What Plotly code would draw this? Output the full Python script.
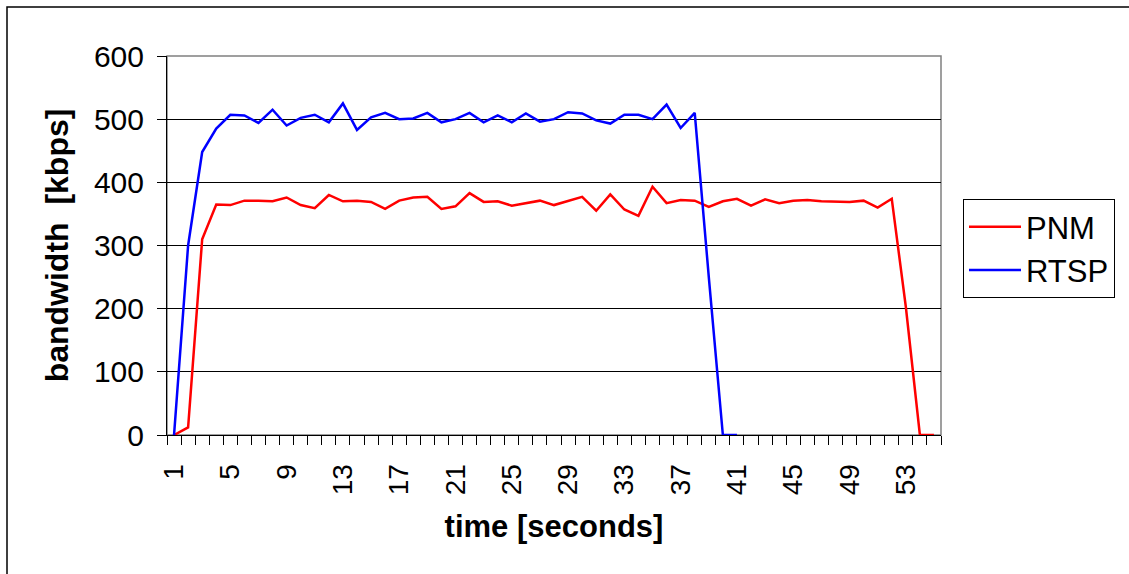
import plotly.graph_objects as go

time_pnm = list(range(1, 56))
pnm = [0, 12, 310, 365, 364, 371, 371, 370, 376, 364,
       359, 380, 370, 371, 369, 358, 371, 376, 377, 358,
       362, 383, 369, 370, 363, 367, 371, 364, 371, 377,
       355, 381, 357, 347, 393, 367, 372, 371, 361, 370,
       374, 363, 373, 367, 371, 372, 370, 369, 369, 371,
       360, 374, 203, 0, 0]

time_rtsp = list(range(1, 42))
rtsp = [0, 300, 448, 485, 507, 506, 494, 515, 490, 502,
        507, 495, 525, 483, 503, 510, 500, 501, 510, 495,
        500, 510, 495, 506, 495, 509, 496, 500, 511, 509,
        498, 493, 507, 507, 500, 523, 486, 510, 250, 0, 0]

x_tickvals = list(range(1, 56, 4))
x_ticktext = [str(v) for v in x_tickvals]
y_tickvals = [0, 100, 200, 300, 400, 500, 600]

FONT = "Liberation Sans, Arial, sans-serif"

fig = go.Figure()
fig.add_trace(go.Scatter(x=time_pnm, y=pnm, mode="lines", name="PNM",
                         line=dict(color="#FF0000", width=2.5)))
fig.add_trace(go.Scatter(x=time_rtsp, y=rtsp, mode="lines", name="RTSP",
                         line=dict(color="#0000FF", width=2.5)))

W, H = 1129, 574
ml, mr, mt, mb = 167, 188, 56, 139
pw, ph = W - ml - mr, H - mt - mb

def px(xp):
    return (xp - ml) / pw

def py(yp):
    return (H - mb - yp) / ph

fig.update_layout(
    width=W, height=H,
    margin=dict(l=ml, r=mr, t=mt, b=mb, pad=0),
    paper_bgcolor="white", plot_bgcolor="white",
    font=dict(family=FONT, color="black", size=28),
    showlegend=True,
    legend=dict(x=px(963), y=py(199), xanchor="left", yanchor="top",
                bordercolor="black", borderwidth=1, bgcolor="white",
                font=dict(size=31, family=FONT), itemwidth=52,
                tracegroupgap=0),
    xaxis=dict(range=[0.5, 55.5], tickmode="array", tickvals=x_tickvals,
               ticktext=x_ticktext, tickangle=-90, ticks="",
               ticklabelstandoff=17,
               tickfont=dict(size=28, family=FONT),
               showgrid=False, zeroline=False, showline=True,
               linecolor="black", linewidth=1,
               minor=dict(tickmode="linear", tick0=0.5, dtick=1,
                          ticks="outside", ticklen=9, tickcolor="black",
                          tickwidth=1, showgrid=False),
               title=dict(text="<b>time [seconds]</b>", standoff=20,
                          font=dict(size=31, family=FONT))),
    yaxis=dict(range=[0, 600], tickmode="array", tickvals=y_tickvals,
               ticks="outside", ticklen=9, tickcolor="black",
               ticklabelstandoff=7,
               tickfont=dict(size=30, family=FONT),
               showgrid=True, gridcolor="black", gridwidth=1,
               zeroline=False, showline=True, linecolor="black", linewidth=1,
               title=dict(text="<b>bandwidth  [kbps]</b>", standoff=15,
                          font=dict(size=32, family=FONT))),
    shapes=[
        dict(type="rect", xref="paper", yref="paper", x0=0, x1=1, y0=0, y1=1,
             line=dict(color="#808080", width=1.5), layer="below"),
        dict(type="rect", xref="paper", yref="paper",
             x0=px(7), x1=px(1140), y0=py(590), y1=py(7),
             line=dict(color="black", width=1.5), layer="below"),
    ],
)

fig.write_html("out.html")
